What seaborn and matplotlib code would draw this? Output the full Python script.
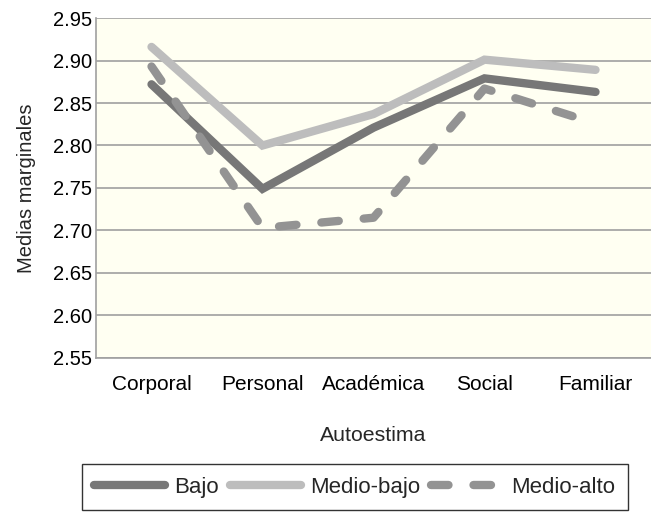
import pandas as pd
import matplotlib.pyplot as plt
import seaborn as sns

categorias = ['Corporal', 'Personal', 'Académica', 'Social', 'Familiar']
bajo = [2.872, 2.749, 2.821, 2.879, 2.863]
medio_bajo = [2.916, 2.800, 2.837, 2.901, 2.889]
medio_alto = [2.893, 2.703, 2.715, 2.867, 2.826]
grupos = ['Bajo', 'Medio-bajo', 'Medio-alto']
colores = {'Bajo': '#777777', 'Medio-bajo': '#bdbdbd', 'Medio-alto': '#939393'}

df = pd.DataFrame({
    'Autoestima': categorias * 3,
    'media': bajo + medio_bajo + medio_alto,
    'grupo': ['Bajo'] * 5 + ['Medio-bajo'] * 5 + ['Medio-alto'] * 5,
})
df['x'] = df['Autoestima'].map({c: i for i, c in enumerate(categorias)})

sns.set_style('white')
plt.rcParams['font.family'] = ['Liberation Sans', 'DejaVu Sans']

fig = plt.figure(figsize=(6.51, 5.15), dpi=100)
ax = fig.add_axes([0.1475, 0.305, 0.8525, 0.66])
ax.set_facecolor('#fffff2')

sns.lineplot(data=df, x='x', y='media', hue='grupo', style='grupo', hue_order=grupos,
             style_order=grupos, palette=colores,
             dashes={'Bajo': '', 'Medio-bajo': '', 'Medio-alto': (2.1, 3.0)},
             linewidth=6, ax=ax, legend=False)
for ln in ax.get_lines():
    ln.set_solid_capstyle('round')
    ln.set_dash_capstyle('round')
    ln.set_solid_joinstyle('miter')

ax.set_xlim(-0.5, 4.5)
ax.set_ylim(2.55, 2.95)
ax.set_xticks(range(len(categorias)))
ax.set_xticklabels(categorias, fontsize=15)
ticks = [2.55 + 0.05 * i for i in range(9)]
ax.set_yticks(ticks)
ax.set_yticklabels([f'{t:.2f}' for t in ticks], fontsize=14.5)
ax.yaxis.grid(True, color='#a0a0a0', linewidth=1.2)
ax.set_axisbelow(True)
ax.tick_params(axis='both', length=0, colors='black')
ax.tick_params(axis='x', pad=12)
ax.tick_params(axis='y', pad=3)
for s in ['top', 'right']:
    ax.spines[s].set_visible(False)
for s in ['left', 'bottom']:
    ax.spines[s].set_color('#a0a0a0')
    ax.spines[s].set_linewidth(1.2)

ax.set_xlabel('Autoestima', fontsize=15.3, labelpad=23)
ax.set_ylabel('Medias marginales', fontsize=14.5, labelpad=12)

handles = []
for g in grupos:
    ls = (0, (2.1, 3.0)) if g == 'Medio-alto' else '-'
    h, = ax.plot([], [], color=colores[g], linewidth=6, linestyle=ls,
                 solid_capstyle='round', dash_capstyle='round')
    handles.append(h)
leg = ax.legend(handles, grupos, loc='upper left', bbox_to_anchor=(-0.025, -0.313),
                ncol=3, frameon=True, fancybox=False, fontsize=16, handlelength=3.2,
                handletextpad=0.4, columnspacing=0.5, borderpad=0.55,
                borderaxespad=0)
leg.get_frame().set_edgecolor('black')
leg.get_frame().set_linewidth(1.0)

fig.savefig('out.png', dpi=100)
